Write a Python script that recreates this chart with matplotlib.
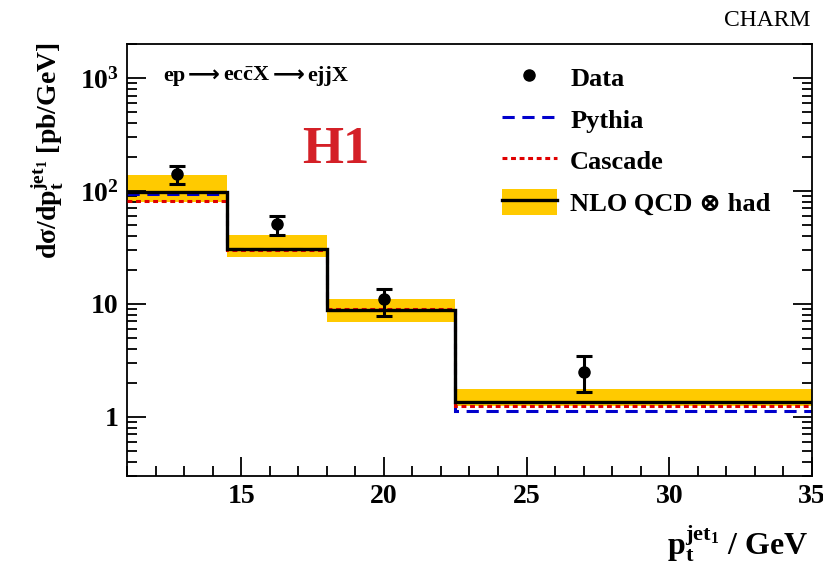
import math

import matplotlib
matplotlib.use("Agg")
import matplotlib.pyplot as plt
from matplotlib.patches import Patch
from matplotlib.lines import Line2D
from matplotlib.offsetbox import AnchoredOffsetbox, HPacker, TextArea
from matplotlib.ticker import FixedLocator, FuncFormatter, LogLocator, MultipleLocator

plt.rcParams['font.family'] = ['Liberation Serif', 'DejaVu Serif']
plt.rcParams['font.weight'] = 'bold'
plt.rcParams['axes.labelweight'] = 'bold'
plt.rcParams['mathtext.fontset'] = 'custom'
plt.rcParams['mathtext.rm'] = 'Liberation Serif:bold'
plt.rcParams['mathtext.it'] = 'Liberation Serif:bold'
plt.rcParams['mathtext.bf'] = 'Liberation Serif:bold'

# bins in p_t of leading jet (GeV)
bin_edges = [11.0, 14.5, 18.0, 22.5, 35.0]

# data points
data_x = [12.75, 16.25, 20.0, 27.0]
data_y = [140.0, 51.0, 11.0, 2.5]
data_err_lo = [25.0, 10.0, 3.2, 0.85]
data_err_hi = [26.0, 9.0, 2.6, 0.95]

# predictions
nlo = [98.0, 30.7, 8.8, 1.36]
nlo_lo = [80.0, 26.0, 6.9, 1.25]
nlo_hi = [138.0, 41.0, 11.1, 1.77]
pythia = [94.0, 30.5, 8.9, 1.12]
cascade = [81.0, 30.0, 9.0, 1.25]

GOLD = "#FFCA00"
BLUE = "#0000CC"
RED = "#E00000"
PYTHIA_LS = (0, (4, 2.5))
CASCADE_LS = (0, (1.6, 1.2))

fig = plt.figure(figsize=(8.23, 5.72), dpi=100)
ax = fig.add_axes([127 / 823, 1 - 476 / 572, (812 - 127) / 823, (476 - 44) / 572])

ax.stairs(nlo_hi, bin_edges, baseline=nlo_lo, fill=True, color=GOLD, lw=0, zorder=1)
ax.stairs(pythia, bin_edges, baseline=None, color=BLUE, lw=2.2, linestyle=PYTHIA_LS, zorder=2)
ax.stairs(cascade, bin_edges, baseline=None, color=RED, lw=2.2, linestyle=CASCADE_LS, zorder=3)
ax.stairs(nlo, bin_edges, baseline=None, color="black", lw=2.4, zorder=4)

ax.errorbar(data_x, data_y, yerr=[data_err_lo, data_err_hi], fmt="o", color="black",
            ms=8, elinewidth=2.2, capsize=6, capthick=2.2, zorder=5)

ax.set_yscale("log")
ax.set_xlim(11, 35)
ax.set_ylim(0.3, 2000)

ax.xaxis.set_major_locator(FixedLocator([15, 20, 25, 30, 35]))
ax.xaxis.set_minor_locator(MultipleLocator(1))
ax.yaxis.set_major_locator(FixedLocator([1, 10, 100, 1000]))
ax.yaxis.set_minor_locator(LogLocator(base=10, subs=range(2, 10)))


def yfmt(v, pos):
    if v < 50:
        return "%d" % v
    return r"$10^{%d}$" % round(math.log10(v))


ax.yaxis.set_major_formatter(FuncFormatter(yfmt))
ax.yaxis.set_minor_formatter(FuncFormatter(lambda v, p: ""))

ax.tick_params(which="both", direction="in", right=True, top=False, width=1.3)
ax.tick_params(which="major", length=14, labelsize=20, pad=6)
ax.tick_params(which="minor", length=7)
for s in ax.spines.values():
    s.set_linewidth(1.3)

fig.text(66 / 823, 1 - 42 / 572, r"d$\sigma$/dp$_{\rm t}^{\rm jet_{1}}$ [pb/GeV]",
         fontsize=20, rotation=90, ha="right", va="top")
fig.text(808 / 823, 1 - 544 / 572, r"p$_{\rm t}^{\rm jet_{1}}$ / GeV", fontsize=23,
         ha="right", va="center")

fig.text(810 / 823, 1 - 21 / 572, "CHARM", fontsize=17, fontweight="normal",
         ha="right", va="center")
fig.text(336 / 823, 1 - 150 / 572, "H1", fontsize=38, color="#D42027",
         ha="center", va="center")

# process label: ep -> e c cbar X -> e j j X
txt = dict(fontsize=16, fontweight="bold")
arr = dict(fontsize=16, family=["DejaVu Sans"])
proc = HPacker(children=[
    TextArea("ep", textprops=txt),
    TextArea("\u27f6", textprops=arr),
    TextArea(r"ec$\bar{\rm c}$X", textprops=txt),
    TextArea("\u27f6", textprops=arr),
    TextArea("ejjX", textprops=txt),
], align="baseline", pad=0, sep=2)
box = AnchoredOffsetbox(loc="center left", child=proc, pad=0, borderpad=0, frameon=False,
                        bbox_to_anchor=(163 / 823, 1 - 75 / 572),
                        bbox_transform=fig.transFigure)
ax.add_artist(box)

handles = [
    Line2D([], [], marker="o", ls="none", color="black", ms=8),
    Line2D([], [], color=BLUE, lw=2.2, linestyle=PYTHIA_LS),
    Line2D([], [], color=RED, lw=2.2, linestyle=CASCADE_LS),
    (Patch(facecolor=GOLD, lw=0), Line2D([], [], color="black", lw=2.4)),
]
labels = ["Data", "Pythia", "Cascade", "NLO QCD \u2297 had"]
ax.legend(handles, labels, loc="upper left", bbox_to_anchor=(502 / 823, 1 - 64 / 572),
          bbox_transform=fig.transFigure, frameon=False, fontsize=19,
          handlelength=2.08, handleheight=1.15, handletextpad=0.5, labelspacing=0.55,
          borderpad=0, borderaxespad=0)

fig.savefig("out.png", dpi=100)
